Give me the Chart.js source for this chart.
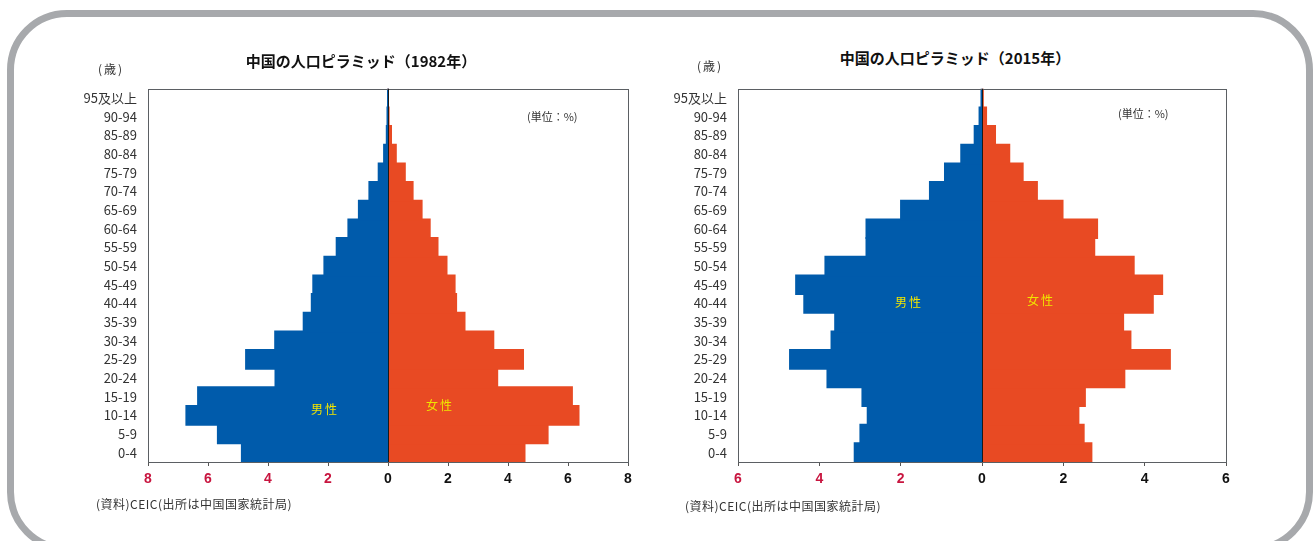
<!DOCTYPE html>
<html>
<head>
<meta charset="utf-8">
<script src="https://cdn.jsdelivr.net/npm/chart.js@4.4.1/dist/chart.umd.min.js"></script>
<style>
  body { margin: 0; background: #fff; width: 1316px; height: 541px; overflow: hidden; position: relative; font-family: 'Noto Sans CJK JP', sans-serif; }
  .frame { position: absolute; left: 7px; top: 10px; width: 1306px; height: 542px; box-sizing: border-box; border: 7px solid #a7a9ac; border-radius: 60px; }
  .box { position: absolute; }
  .txt { position: absolute; white-space: nowrap; color: #222; }
  .title { font-size: 15px; font-weight: bold; color: #111; transform: translate(-50%, -50%); }
  .small { font-size: 11px; color: #333; transform: translateY(-50%); }
  .age { font-size: 12px; letter-spacing: 2px; }
  .src { font-size: 12px; letter-spacing: 0.5px; color: #333; transform: translateY(-50%); }
  .sex { font-size: 12px; color: #f0e400; letter-spacing: 2px; transform: translate(-50%, -50%); }
</style>
</head>
<body>
<div class="frame"></div>

<div class="box" style="left:60px; top:70px; width:590px; height:432px;"><canvas id="chart1982"></canvas></div>
<div class="box" style="left:650px; top:70px; width:598px; height:432px;"><canvas id="chart2015"></canvas></div>

<div class="txt title" style="left:361px; top:60px;">中国の人口ピラミッド（1982年）</div>
<div class="txt title" style="left:955px; top:57px;">中国の人口ピラミッド（2015年）</div>
<div class="txt small age" style="left:98px; top:68px;">(歳)</div>
<div class="txt small age" style="left:697px; top:65px;">(歳)</div>
<div class="txt small" style="left:527px; top:116px;">(単位：%)</div>
<div class="txt small" style="left:1118px; top:113px;">(単位：%)</div>
<div class="txt src" style="left:96px; top:503px;">(資料)CEIC(出所は中国国家統計局)</div>
<div class="txt src" style="left:685px; top:505px;">(資料)CEIC(出所は中国国家統計局)</div>
<div class="txt sex" style="left:325px; top:408px;">男性</div>
<div class="txt sex" style="left:440px; top:404px;">女性</div>
<div class="txt sex" style="left:909px; top:301px;">男性</div>
<div class="txt sex" style="left:1041px; top:299px;">女性</div>

<script>
// age groups, bottom to top
const ages = ['0-4', '5-9', '10-14', '15-19', '20-24', '25-29', '30-34', '35-39', '40-44', '45-49',
  '50-54', '55-59', '60-64', '65-69', '70-74', '75-79', '80-84', '85-89', '90-94', '95及以上'];

// share of population (%)
const male1982 = [4.87, 5.67, 6.72, 6.33, 3.75, 4.73, 3.76, 2.81, 2.54, 2.49,
  2.12, 1.71, 1.32, 0.97, 0.62, 0.31, 0.13, 0.04, 0.01, 0];
const female1982 = [4.55, 5.32, 6.35, 6.13, 3.64, 4.50, 3.51, 2.55, 2.27, 2.22,
  1.95, 1.65, 1.39, 1.12, 0.82, 0.56, 0.26, 0.10, 0.02, 0];

const male2015 = [3.13, 2.99, 2.81, 2.94, 3.80, 4.72, 3.70, 3.61, 4.37, 4.57,
  3.85, 2.84, 2.84, 1.99, 1.28, 0.91, 0.51, 0.18, 0.06, 0.01];
const female2015 = [2.69, 2.50, 2.37, 2.53, 3.50, 4.62, 3.65, 3.47, 4.20, 4.43,
  3.73, 2.76, 2.83, 1.98, 1.35, 1.00, 0.67, 0.32, 0.10, 0.02];

const blue = '#005bab';
const red = '#e84a23';

// plot frame + line at zero
const frameLines = {
  id: 'frameLines',
  afterDatasetsDraw(chart) {
    const { ctx, chartArea: a, scales: { x } } = chart;
    ctx.save();
    ctx.strokeStyle = '#5b5f63';
    ctx.lineWidth = 1;
    ctx.strokeRect(Math.round(a.left) + 0.5, Math.round(a.top) + 0.5, Math.round(a.width), Math.round(a.height));
    const x0 = Math.round(x.getPixelForValue(0)) + 0.5;
    ctx.strokeStyle = '#1a1a1a';
    ctx.beginPath();
    ctx.moveTo(x0, a.top);
    ctx.lineTo(x0, a.bottom);
    ctx.stroke();
    ctx.restore();
  }
};

function makeChart(id, male, female, lim, padTop) {
  return new Chart(document.getElementById(id), {
    type: 'bar',
    data: {
      labels: ages,
      datasets: [
        { label: '男性', data: male.map(v => -v), backgroundColor: blue, borderWidth: 0, inflateAmount: 1, barPercentage: 1, categoryPercentage: 1 },
        { label: '女性', data: female, backgroundColor: red, borderWidth: 0, inflateAmount: 1, barPercentage: 1, categoryPercentage: 1 }
      ]
    },
    options: {
      indexAxis: 'y',
      responsive: true,
      maintainAspectRatio: false,
      animation: false,
      layout: { padding: { top: padTop, right: 22, left: 0, bottom: 0 } },
      plugins: { legend: { display: false }, tooltip: { enabled: false } },
      scales: {
        x: {
          stacked: true,
          min: -lim,
          max: lim,
          afterFit: (scale) => { scale.height = 40; },
          grid: { drawOnChartArea: false, drawTicks: true, tickLength: 4, color: '#555' },
          border: { display: true, color: '#555' },
          ticks: {
            stepSize: 2,
            padding: 5,
            font: { family: "'Liberation Sans', Arial, sans-serif", size: 14, weight: 'bold' },
            color: (c) => c.tick && c.tick.value < 0 ? '#c8153f' : '#111',
            callback: (v) => Math.abs(v)
          }
        },
        y: {
          stacked: true,
          reverse: true,
          afterFit: (scale) => { scale.width = 88; },
          grid: { display: false, drawTicks: false },
          border: { display: false },
          ticks: {
            autoSkip: false,
            padding: 11,
            font: { family: "'Noto Sans CJK JP', sans-serif", size: 13 },
            color: '#333'
          }
        }
      }
    },
    plugins: [frameLines]
  });
}

makeChart('chart1982', male1982, female1982, 8, 12);
makeChart('chart2015', male2015, female2015, 6, 11);
</script>
</body>
</html>
